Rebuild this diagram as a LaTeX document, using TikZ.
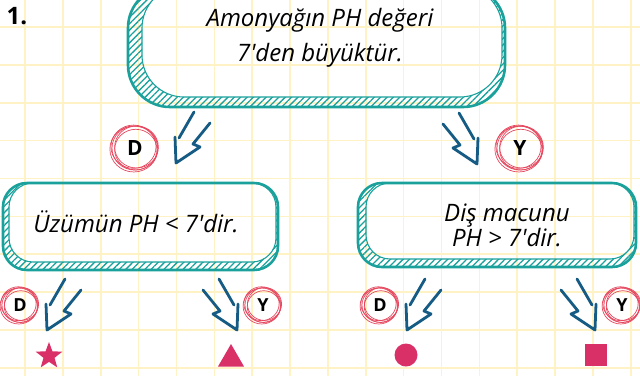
\documentclass[tikz,border=0pt]{standalone}
\usepackage{fontspec}
\setmainfont{Open Sans}
\usetikzlibrary{patterns.meta,shapes.geometric}

\definecolor{boxteal}{HTML}{1AA19C}
\definecolor{arrowblue}{HTML}{155B83}
\definecolor{ringred}{HTML}{E5485F}
\definecolor{shapepink}{HTML}{DA3068}
\definecolor{gridyellow}{HTML}{FFF3C6}

% box with a hatched shadow between the outer and the inner outline
\newcommand{\hatchedbox}[5]{%
  \begin{scope}
    \clip[rounded corners=#5] (#1) rectangle (#2);
    \fill[hatch, even odd rule, rounded corners=#5] (#1) rectangle (#2) (#3) rectangle (#4);
  \end{scope}
  \draw[thinedge, rounded corners=#5] (#3) rectangle (#4);
  \draw[thickedge, rounded corners=#5] (#1) rectangle (#2);
}

\tikzset{
  pics/sketcharrow/.style={code={
    \draw[arrowline] (18,-51) -- (3,-25) (-1,-26) -- (0,0) -- (24,-16) -- (17,-19) -- (34,-40);
  }}
}

\begin{document}
\begin{tikzpicture}[x=1pt, y=-1pt,
    gridline/.style={draw=gridyellow, line width=1.6pt},
    thickedge/.style={draw=boxteal, line width=2.6pt},
    thinedge/.style={draw=boxteal, line width=1.1pt},
    hatch/.style={pattern={Lines[angle=45,distance=4.5pt,line width=1.3pt]}, pattern color=boxteal},
    arrowline/.style={draw=arrowblue, line width=2.8pt, line cap=round, line join=round},
    ring/.style={draw=ringred, line width=0.7pt},
    token/.style={fill=shapepink, inner sep=0pt},
    question/.style={font=\itshape\fontsize{24}{35}\selectfont, align=center},
    letter/.style={font=\bfseries\fontsize{21}{21}\selectfont},
    smallletter/.style={font=\bfseries\fontsize{18}{18}\selectfont}]
  \useasboundingbox (0,0) rectangle (640,376);
  \clip (0,0) rectangle (640,376);

  % squared paper
  \foreach \i in {0,...,16} \draw[gridline] ({25+37.86*\i},0) -- ++(0,376);
  \foreach \j in {0,...,9} \draw[gridline] (0,{27+37.86*\j}) -- ++(640,0);

  \node (num) [font=\bfseries\fontsize{24}{24}\selectfont] at (17,16) {1.};

  % question boxes
  \hatchedbox{128,-14}{505,107}{142,-14}{502,97}{42}
  \hatchedbox{3,183}{278,270}{9,183}{276,262}{24}
  \hatchedbox{358,183}{636,267}{366,183}{634,259}{24}

  \node (q1) [question] at (320,38) {Amonyağın PH değeri\\7\textquotesingle den büyüktür.};
  \node (q2) [question, font=\itshape\fontsize{24}{25}\selectfont] at (136,222) {Üzümün PH < 7\textquotesingle dir.};
  \node (q3) [question, font=\itshape\fontsize{24}{25}\selectfont] at (507,225) {Diş macunu\\PH > 7\textquotesingle dir.};

  % true / false marks
  \node (d1) [letter] at (135,148) {D};
  \node (y1) [letter] at (520,148) {Y};
  \node (d2) [smallletter] at (20,305) {D};
  \node (y2) [smallletter] at (263,305) {Y};
  \node (d3) [smallletter] at (380,305) {D};
  \node (y3) [smallletter] at (622,305) {Y};

  \foreach \n/\r in {d1/23,y1/23,d2/18,y2/18,d3/18,y3/18}
    \foreach \dx/\dy/\s in {0/0/1, 1.5/-1/0.95, -1.2/1/1.04, 0.8/1.6/0.92, -1.5/-1.3/0.98}
      \draw[ring] ([shift={(\dx,\dy)}]\n.center) ellipse [x radius={\r*\s}, y radius={\r*\s*0.96}];

  % arrows, tips named
  \coordinate (t1) at (176,163);
  \coordinate (t2) at (477,164);
  \coordinate (t3) at (47,330);
  \coordinate (t4) at (237,330);
  \coordinate (t5) at (407,330);
  \coordinate (t6) at (595,330);
  \pic at (t1) {sketcharrow};
  \pic[xscale=-1] at (t2) {sketcharrow};
  \pic at (t3) {sketcharrow};
  \pic[xscale=-1] at (t4) {sketcharrow};
  \pic at (t5) {sketcharrow};
  \pic[xscale=-1] at (t6) {sketcharrow};

  % results
  \node (star) [token, star, star points=5, star point ratio=2.4, minimum size=28pt] at (49,356) {};
  \node (tri) [token, regular polygon, regular polygon sides=3, minimum size=30pt] at (231,359) {};
  \node (dot) [token, circle, minimum size=23pt] at (406,355) {};
  \node (sq) [token, rectangle, minimum size=22pt] at (596,355) {};
\end{tikzpicture}
\end{document}
